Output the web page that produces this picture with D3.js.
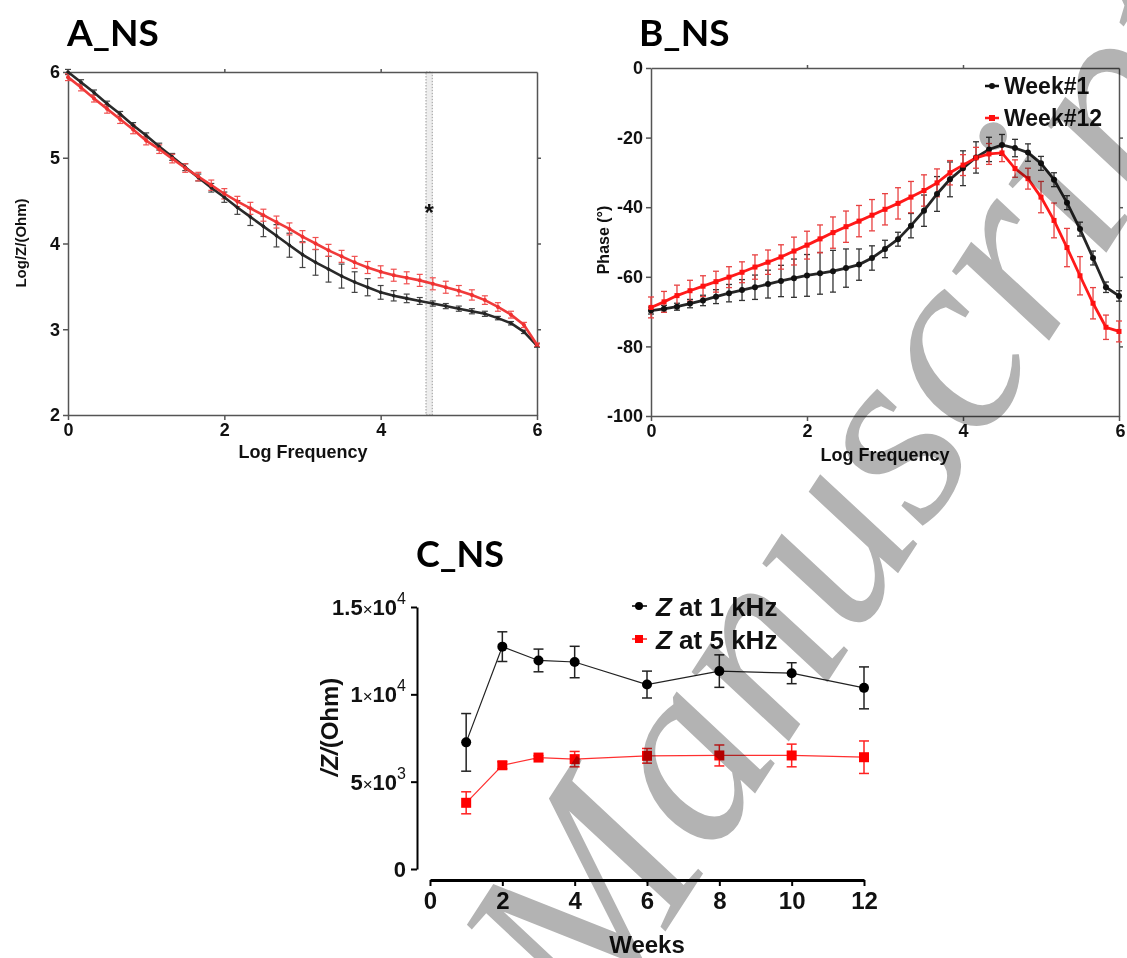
<!DOCTYPE html>
<html>
<head>
<meta charset="utf-8">
<script src="https://cdn.jsdelivr.net/npm/d3@7.9.0/dist/d3.min.js"></script>
<style>
  body { margin: 0; background: #fff; }
  svg { display: block; }
  text { font-family: "Liberation Sans", Arial, sans-serif; font-weight: bold; fill: #111; }
  .title { font-family: Lato, "Open Sans", sans-serif; font-weight: 700; font-size: 37px; fill: #000; }
  .frame path, .frame line { stroke: #555; stroke-width: 1.5; }
  text.watermark { mix-blend-mode: multiply; font-family: "Liberation Serif", "Times New Roman", serif;
    font-style: italic; font-weight: normal; fill: #b3b3b3; }
</style>
</head>
<body>
<svg id="fig" width="1127" height="958"></svg>
<script>
// ---- data ----
// log frequency points, 6 per decade (1 Hz .. 1 MHz)
const logFreq = [0, 0.167, 0.333, 0.5, 0.667, 0.833, 1, 1.167, 1.333, 1.5, 1.667, 1.833,
  2, 2.167, 2.333, 2.5, 2.667, 2.833, 3, 3.167, 3.333, 3.5, 3.667, 3.833,
  4, 4.167, 4.333, 4.5, 4.667, 4.833, 5, 5.167, 5.333, 5.5, 5.667, 5.833, 6];

// panel A: log|Z|
const logZWeek1 = [6.00, 5.88, 5.76, 5.63, 5.51, 5.38, 5.26, 5.13, 5.01, 4.89, 4.77, 4.65,
  4.54, 4.42, 4.31, 4.20, 4.09, 3.98, 3.87, 3.78, 3.70, 3.62, 3.55, 3.49,
  3.43, 3.39, 3.36, 3.33, 3.30, 3.27, 3.24, 3.21, 3.18, 3.13, 3.07, 2.97, 2.81];
const logZWeek1Err = [0.03, 0.03, 0.03, 0.03, 0.03, 0.03, 0.03, 0.04, 0.04, 0.04, 0.04, 0.05,
  0.06, 0.08, 0.10, 0.12, 0.13, 0.14, 0.15, 0.15, 0.15, 0.14, 0.12, 0.10,
  0.08, 0.06, 0.05, 0.04, 0.03, 0.03, 0.03, 0.03, 0.03, 0.02, 0.02, 0.02, 0.02];
const logZWeek12 = [5.94, 5.82, 5.69, 5.57, 5.45, 5.33, 5.20, 5.10, 4.99, 4.88, 4.78, 4.68,
  4.58, 4.49, 4.41, 4.33, 4.25, 4.17, 4.08, 4.00, 3.92, 3.85, 3.78, 3.72,
  3.67, 3.63, 3.60, 3.57, 3.53, 3.49, 3.45, 3.40, 3.34, 3.26, 3.17, 3.05, 2.82];
const logZWeek12Err = [0.04, 0.04, 0.04, 0.05, 0.05, 0.05, 0.05, 0.05, 0.05, 0.05, 0.05, 0.06,
  0.06, 0.06, 0.07, 0.07, 0.07, 0.07, 0.07, 0.07, 0.07, 0.07, 0.07, 0.07,
  0.07, 0.07, 0.07, 0.07, 0.07, 0.07, 0.06, 0.06, 0.05, 0.05, 0.04, 0.03, 0.02];
const sigBand = [4.58, 4.66];

// panel B: phase
const phaseWeek1 = [-69.7, -69.2, -68.6, -67.7, -66.8, -65.7, -64.7, -63.8, -63.0, -62.1, -61.2, -60.4,
  -59.6, -59.0, -58.4, -57.5, -56.5, -54.6, -52.0, -49.2, -45.3, -41.0, -36.2, -32.0,
  -28.8, -25.7, -23.4, -22.1, -23.0, -24.3, -27.4, -32.1, -38.7, -46.3, -54.6, -63.0, -65.5];
const phaseWeek1Err = [1, 1, 1, 1.2, 1.5, 2, 2.5, 3, 3.5, 4, 4.5, 5.5,
  6, 6, 6, 5.5, 4.5, 3.5, 2.5, 2, 3.5, 4.5, 5, 5,
  5, 4.5, 3.5, 3, 2.5, 2.5, 2, 2, 2, 2, 2, 1.5, 1.5];
const phaseWeek12 = [-68.8, -67.2, -65.4, -64.0, -62.7, -61.4, -60.1, -58.7, -57.2, -55.8, -54.3, -52.6,
  -50.9, -49.1, -47.3, -45.6, -44.0, -42.3, -40.6, -38.9, -37.1, -35.2, -33.0, -30.1,
  -27.9, -25.8, -24.7, -24.4, -28.9, -31.8, -37.1, -43.8, -51.6, -59.7, -67.6, -74.5, -75.7];
const phaseWeek12Err = [3, 3, 3, 3, 3, 3, 3, 3, 3.5, 3.5, 3.5, 4,
  4, 4, 4.5, 4.5, 4.5, 4.5, 4.5, 4.5, 4.5, 4.5, 4, 3.5,
  3, 3, 3, 2.5, 2.5, 3, 4.5, 5, 5.5, 5.5, 4.5, 3.5, 3];

// panel C: |Z| over weeks
const weeks = [1, 2, 3, 4, 6, 8, 10, 12];
const z1k = [7250, 12730, 11940, 11850, 10560, 11330, 11210, 10370];
const z1kErr = [1650, 850, 650, 900, 770, 930, 600, 1200];
const z5k = [3790, 5940, 6380, 6290, 6480, 6500, 6500, 6400];
const z5kErr = [630, 200, 100, 440, 420, 600, 650, 930];
const cTicks = [0, 5000, 10000, 15000];
const cTickMant = ['0', '5', '1', '1.5'];
const cTickExp = ['', '3', '4', '4'];

const svg = d3.select('#fig');
const plain = d => String(d);

function errorBars(g, xs, ys, es, x, y, color, cap, width) {
  xs.forEach((v, i) => {
    const cx = x(v), y1 = y(ys[i] + es[i]), y2 = y(ys[i] - es[i]);
    g.append('line').attr('x1', cx).attr('x2', cx).attr('y1', y1).attr('y2', y2)
      .attr('stroke', color).attr('stroke-width', width);
    [y1, y2].forEach(yy => g.append('line')
      .attr('x1', cx - cap).attr('x2', cx + cap).attr('y1', yy).attr('y2', yy)
      .attr('stroke', color).attr('stroke-width', width));
  });
}

function frame(g, x, y, xTicks, yTicks, fontSize) {
  const [x0, x1] = x.range(), [y0, y1] = y.range();
  g.append('g').attr('class', 'frame').attr('transform', `translate(0,${y0})`)
    .call(d3.axisBottom(x).tickValues(xTicks).tickSize(5).tickSizeOuter(0).tickFormat(plain));
  g.append('g').attr('class', 'frame').attr('transform', `translate(${x0},0)`)
    .call(d3.axisLeft(y).tickValues(yTicks).tickSize(5).tickSizeOuter(0).tickFormat(plain));
  g.append('g').attr('class', 'frame').attr('transform', `translate(0,${y1})`)
    .call(d3.axisTop(x).tickValues(xTicks.slice(1, -1)).tickSize(3).tickFormat('').tickSizeOuter(0));
  g.append('g').attr('class', 'frame').attr('transform', `translate(${x1},0)`)
    .call(d3.axisRight(y).tickValues(yTicks.slice(1, -1)).tickSize(4).tickFormat('').tickSizeOuter(0));
  g.selectAll('.frame text').attr('font-size', fontSize).attr('font-family', null);
}

// ---- panel A ----
const xA = d3.scaleLinear().domain([0, 6]).range([68, 537]);
const yA = d3.scaleLinear().domain([2, 6]).range([415, 72]);
const gA = svg.append('g');
gA.append('rect').attr('x', xA(sigBand[0])).attr('width', xA(sigBand[1]) - xA(sigBand[0]))
  .attr('y', yA(6)).attr('height', yA(2) - yA(6))
  .attr('fill', '#eeeeee').attr('stroke', '#999').attr('stroke-width', 1).attr('stroke-dasharray', '1.5,1.5');
frame(gA, xA, yA, [0, 2, 4, 6], [2, 3, 4, 5, 6], 18);
gA.append('text').attr('font-size', 24).attr('text-anchor', 'middle')
  .attr('x', xA((sigBand[0] + sigBand[1]) / 2)).attr('y', yA(4.26)).text('*');
const lineA = (ys) => d3.line().x((d, i) => xA(logFreq[i])).y(d => yA(d))(ys);
errorBars(gA, logFreq, logZWeek1, logZWeek1Err, xA, yA, '#444', 3, 1.2);
errorBars(gA, logFreq, logZWeek12, logZWeek12Err, xA, yA, '#f05050', 3, 1.2);
gA.append('path').attr('d', lineA(logZWeek1)).attr('fill', 'none').attr('stroke', '#2a2a2a').attr('stroke-width', 2.6);
gA.append('path').attr('d', lineA(logZWeek12)).attr('fill', 'none').attr('stroke', '#f03a3a').attr('stroke-width', 2.6);
gA.selectAll('.mA1').data(logZWeek1).join('circle').attr('cx', (d, i) => xA(logFreq[i])).attr('cy', d => yA(d)).attr('r', 1.8).attr('fill', '#222');
gA.selectAll('.mA12').data(logZWeek12).join('circle').attr('cx', (d, i) => xA(logFreq[i])).attr('cy', d => yA(d)).attr('r', 2).attr('fill', '#f03030');
gA.append('text').attr('class', 'title').attr('x', 67).attr('y', 46).text('A_NS');
gA.append('text').attr('x', 303).attr('y', 458).attr('font-size', 18).attr('text-anchor', 'middle').text('Log Frequency');
gA.append('text').attr('transform', 'translate(26,243) rotate(-90)').attr('font-size', 15).attr('text-anchor', 'middle').text('Log/Z/(Ohm)');

// ---- panel B ----
const xB = d3.scaleLinear().domain([0, 6]).range([651, 1119]);
const yB = d3.scaleLinear().domain([-100, 0]).range([416, 68]);
const gB = svg.append('g');
frame(gB, xB, yB, [0, 2, 4, 6], [-100, -80, -60, -40, -20, 0], 18);
gB.selectAll('.frame text').filter(d => d === 6).attr('text-anchor', 'end').attr('dx', 6);
const lineB = (ys) => d3.line().x((d, i) => xB(logFreq[i])).y(d => yB(d))(ys);
errorBars(gB, logFreq, phaseWeek1, phaseWeek1Err, xB, yB, '#333', 3, 1.3);
errorBars(gB, logFreq, phaseWeek12, phaseWeek12Err, xB, yB, '#e84040', 3, 1.3);
gB.append('path').attr('d', lineB(phaseWeek1)).attr('fill', 'none').attr('stroke', '#262626').attr('stroke-width', 2.8);
gB.append('path').attr('d', lineB(phaseWeek12)).attr('fill', 'none').attr('stroke', '#ff1a1a').attr('stroke-width', 2.8);
gB.selectAll('.mB1').data(phaseWeek1).join('circle').attr('cx', (d, i) => xB(logFreq[i])).attr('cy', d => yB(d)).attr('r', 3).attr('fill', '#111');
gB.selectAll('.mB12').data(phaseWeek12).join('rect').attr('x', (d, i) => xB(logFreq[i]) - 2.5).attr('y', d => yB(d) - 2.5)
  .attr('width', 5).attr('height', 5).attr('fill', '#ff1010');
gB.append('text').attr('class', 'title').attr('x', 639).attr('y', 46).text('B_NS');
gB.append('text').attr('x', 885).attr('y', 461).attr('font-size', 18).attr('text-anchor', 'middle').text('Log Frequency');
gB.append('text').attr('transform', 'translate(609,240) rotate(-90)').attr('font-size', 16).attr('text-anchor', 'middle').text('Phase (°)');
// legend B
const legB = gB.append('g');
legB.append('line').attr('x1', 985).attr('x2', 999).attr('y1', 86).attr('y2', 86).attr('stroke', '#111').attr('stroke-width', 2.5);
legB.append('circle').attr('cx', 992).attr('cy', 86).attr('r', 3).attr('fill', '#111');
legB.append('text').attr('x', 1004).attr('y', 94).attr('font-size', 23).text('Week#1');
legB.append('line').attr('x1', 985).attr('x2', 999).attr('y1', 118).attr('y2', 118).attr('stroke', '#ff1a1a').attr('stroke-width', 2.5);
legB.append('rect').attr('x', 989).attr('y', 115).attr('width', 6).attr('height', 6).attr('fill', '#ff1010');
legB.append('text').attr('x', 1004).attr('y', 126).attr('font-size', 23).text('Week#12');

// ---- panel C ----
const xC = d3.scaleLinear().domain([0, 12]).range([430, 864]);
const yC = d3.scaleLinear().domain([0, 15000]).range([869, 607]);
const gC = svg.append('g');
const axC = gC.append('g').attr('transform', 'translate(0,880)')
  .call(d3.axisBottom(xC).tickValues([0, 2, 4, 6, 8, 10, 12]).tickSize(6).tickSizeOuter(0).tickFormat(plain));
axC.select('.domain').attr('stroke', '#000').attr('stroke-width', 3);
axC.selectAll('line').attr('stroke', '#000').attr('stroke-width', 2);
axC.selectAll('text').attr('font-size', 24).attr('font-family', null).attr('fill', '#000').attr('dy', '0.85em');
const ayC = gC.append('g').attr('transform', 'translate(417,0)')
  .call(d3.axisLeft(yC).tickValues(cTicks).tickSize(6).tickSizeOuter(0).tickFormat(''));
ayC.select('.domain').attr('stroke', '#000').attr('stroke-width', 2);
ayC.selectAll('line').attr('stroke', '#000').attr('stroke-width', 2);
cTicks.forEach((v, i) => {
  const t = gC.append('text').attr('x', 406).attr('y', yC(v) + 8).attr('text-anchor', 'end').attr('font-size', 22).attr('fill', '#000');
  if (cTickExp[i] === '') { t.text(cTickMant[i]); return; }
  t.append('tspan').text(cTickMant[i]);
  t.append('tspan').attr('font-weight', 'normal').attr('font-size', 17).text('×');
  t.append('tspan').text('10');
  t.append('tspan').attr('font-weight', 'normal').attr('font-size', 16).attr('dy', -11).text(cTickExp[i]);
});
errorBars(gC, weeks, z1k, z1kErr, xC, yC, '#222', 5, 1.5);
errorBars(gC, weeks, z5k, z5kErr, xC, yC, '#ff2020', 5, 1.5);
const lineC = (ys) => d3.line().x((d, i) => xC(weeks[i])).y(d => yC(d))(ys);
gC.append('path').attr('d', lineC(z1k)).attr('fill', 'none').attr('stroke', '#222').attr('stroke-width', 1.2);
gC.append('path').attr('d', lineC(z5k)).attr('fill', 'none').attr('stroke', '#ff3030').attr('stroke-width', 1.2);
gC.selectAll('.mC1').data(z1k).join('circle').attr('cx', (d, i) => xC(weeks[i])).attr('cy', d => yC(d)).attr('r', 5).attr('fill', '#000');
gC.selectAll('.mC5').data(z5k).join('rect').attr('x', (d, i) => xC(weeks[i]) - 5).attr('y', d => yC(d) - 5)
  .attr('width', 10).attr('height', 10).attr('fill', '#ff0000');
gC.append('text').attr('class', 'title').attr('x', 416).attr('y', 567).style('font-size', '36px').text('C_NS');
gC.append('text').attr('x', 647).attr('y', 953).attr('font-size', 24).attr('text-anchor', 'middle').attr('fill', '#000').text('Weeks');
const yt = gC.append('text').attr('transform', 'translate(338,727) rotate(-90)').attr('font-size', 24).attr('text-anchor', 'middle').attr('fill', '#000');
yt.append('tspan').attr('font-style', 'italic').text('/Z/');
yt.append('tspan').text('(Ohm)');
// legend C
const legC = gC.append('g');
legC.append('line').attr('x1', 632).attr('x2', 647).attr('y1', 606).attr('y2', 606).attr('stroke', '#000').attr('stroke-width', 1.5);
legC.append('circle').attr('cx', 639).attr('cy', 606).attr('r', 4).attr('fill', '#000');
let lt = legC.append('text').attr('x', 656).attr('y', 616).attr('font-size', 26).attr('fill', '#000');
lt.append('tspan').attr('font-style', 'italic').text('Z');
lt.append('tspan').text(' at 1 kHz');
legC.append('line').attr('x1', 632).attr('x2', 647).attr('y1', 639).attr('y2', 639).attr('stroke', '#ff2020').attr('stroke-width', 1.5);
legC.append('rect').attr('x', 635).attr('y', 635).attr('width', 8).attr('height', 8).attr('fill', '#ff0000');
lt = legC.append('text').attr('x', 656).attr('y', 649).attr('font-size', 26).attr('fill', '#000');
lt.append('tspan').attr('font-style', 'italic').text('Z');
lt.append('tspan').text(' at 5 kHz');

// ---- watermark ----
svg.append('text').attr('class', 'watermark')
  .attr('transform', 'translate(595,1040) rotate(-57)')
  .style('font-size', '260px')
  .text('Manuscript');
</script>
</body>
</html>
